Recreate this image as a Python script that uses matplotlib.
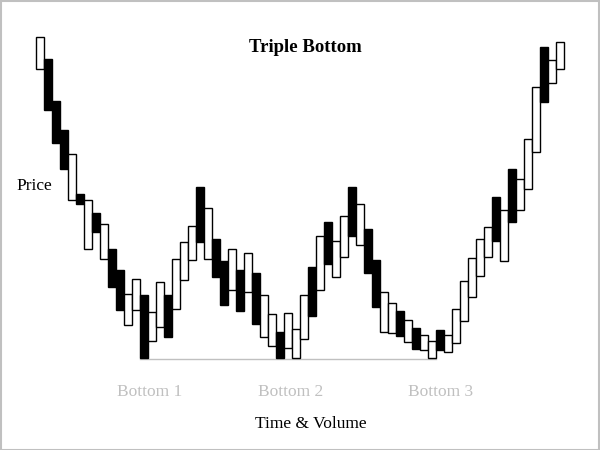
import matplotlib
matplotlib.use("Agg")
import matplotlib.pyplot as plt
from matplotlib.patches import Rectangle

# Price data (open / close), one box per period
opens = [291, 301, 259, 230, 160, 166, 111, 147, 101, 111, 90, 35, 50, 65, 19, 33, 65,
         51, 80, 100, 173, 101, 121, 99, 70, 90, 68, 87, 23, 14, 28, 12, 2, 21, 93, 70,
         138, 83, 103, 173, 115, 131, 100, 28, 27, 49, 18, 32, 10, 2, 30, 8, 17, 39, 63,
         84, 103, 163, 99, 191, 150, 171, 208, 313, 277, 291]
closes = [323, 250, 217, 191, 206, 156, 160, 128, 136, 73, 50, 66, 81, 2, 48, 78, 23,
          101, 118, 134, 118, 152, 83, 55, 111, 49, 107, 36, 65, 46, 2, 47, 31, 65, 44, 124,
          96, 119, 144, 124, 156, 87, 53, 68, 57, 24, 40, 11, 25, 19, 10, 25, 51, 79, 102,
          121, 133, 119, 150, 138, 181, 221, 273, 258, 300, 318]
support_level = 1
support_start, support_end = 13, 50
bottom_labels = ["Bottom 1", "Bottom 2", "Bottom 3"]
bottom_label_pos = [14.3, 31.9, 50.6]

title = "Triple Bottom"
ylabel = "Price"
xlabel = "Time & Volume"

fig = plt.figure(figsize=(6, 4.5), dpi=100)
ax = fig.add_axes([0, 0, 1, 1])
ax.set_xlim(-35.5 / 8, (600 - 35.5) / 8)
ax.set_ylim(-90, 360)
ax.axis("off")

lw = 1.0
for i, (o, c) in enumerate(zip(opens, closes)):
    lo, hi = min(o, c), max(o, c)
    face = "white" if c >= o else "black"
    ax.add_patch(Rectangle((i, lo), 1, hi - lo, facecolor=face, edgecolor="black",
                           linewidth=lw, zorder=3))

ax.plot([support_start, support_end], [support_level, support_level],
        color="#c0c0c0", linewidth=1.0, zorder=2)

serif = ["Liberation Serif", "DejaVu Serif"]
ax.text(33.7, 313, title, ha="center", va="center", fontsize=13.5, fontweight="bold",
        family=serif)
ax.text(-0.1, 174, ylabel, ha="center", va="center", fontsize=12.5, family=serif)
ax.text(34.4, -64, xlabel, ha="center", va="center", fontsize=12.5, family=serif)
for lab, xp in zip(bottom_labels, bottom_label_pos):
    ax.text(xp, -32, lab, ha="center", va="center", fontsize=12.5, family=serif,
            color="#c0c0c0")

fig.patches.append(Rectangle((0.001, 0.001), 0.997, 0.997, transform=fig.transFigure,
                             fill=False, edgecolor="#c0c0c0", linewidth=1.5))

fig.savefig("out.png", dpi=100, facecolor="white")
